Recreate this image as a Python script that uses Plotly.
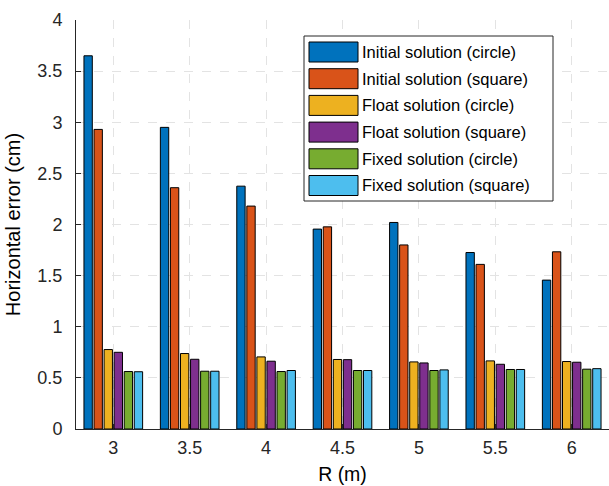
import plotly.graph_objects as go

R = [3, 3.5, 4, 4.5, 5, 5.5, 6]
tick_labels = ["3", "3.5", "4", "4.5", "5", "5.5", "6"]
names = ["Initial solution (circle)", "Initial solution (square)",
         "Float solution (circle)", "Float solution (square)",
         "Fixed solution (circle)", "Fixed solution (square)"]
init_circle = [3.65, 2.95, 2.375, 1.955, 2.02, 1.726, 1.456]
init_square = [2.93, 2.36, 2.18, 1.977, 1.80, 1.61, 1.733]
float_circle = [0.777, 0.738, 0.705, 0.68, 0.656, 0.666, 0.66]
float_square = [0.75, 0.682, 0.663, 0.678, 0.646, 0.633, 0.653]
fixed_circle = [0.562, 0.565, 0.562, 0.572, 0.572, 0.582, 0.585]
fixed_square = [0.56, 0.565, 0.572, 0.572, 0.578, 0.582, 0.59]
series = [init_circle, init_square, float_circle, float_square, fixed_circle, fixed_square]
colors = ["#0072BD", "#D95319", "#EDB120", "#7E2F8E", "#77AC30", "#4DBEEE"]

W, H = 609, 486
ML, MR, MT, MB = 76, 0, 20, 57
PW, PH = W - ML - MR, H - MT - MB
FONT = "Liberation Sans, Arial"

fig = go.Figure()
for name, vals, c in zip(names, series, colors):
    fig.add_trace(go.Bar(x=R, y=vals, name=name, marker=dict(color=c, line=dict(color="#000000", width=1)),
                         showlegend=False))

def px2x(px):
    return (px - ML) / PW

def py2y(py):
    return (H - MB - py) / PH

shapes = []
annotations = []
# legend box
lx0, lx1, ly0, ly1 = 304, 553, 36, 201
shapes.append(dict(type="rect", xref="paper", yref="paper", x0=px2x(lx0), x1=px2x(lx1),
                   y0=py2y(ly1), y1=py2y(ly0), fillcolor="white", line=dict(color="#262626", width=1)))
for i, (name, c) in enumerate(zip(names, colors)):
    top = 42 + i * 26.7
    shapes.append(dict(type="rect", xref="paper", yref="paper", x0=px2x(309), x1=px2x(358),
                       y0=py2y(top + 20), y1=py2y(top), fillcolor=c, line=dict(color="#000000", width=1)))
    annotations.append(dict(xref="paper", yref="paper", x=px2x(360), y=py2y(top + 10), text=name,
                            showarrow=False, xanchor="left", yanchor="middle",
                            font=dict(family=FONT, size=16.5, color="#000000")))

fig.update_layout(
    width=W, height=H,
    margin=dict(l=ML, r=MR, t=MT, b=MB),
    paper_bgcolor="white", plot_bgcolor="white",
    barmode="group", bargap=0.21, bargroupgap=0.17,
    font=dict(family=FONT, size=18, color="#262626"),
    shapes=shapes, annotations=annotations,
    xaxis=dict(range=[2.756, 6.244], tickvals=R, ticktext=tick_labels, showline=True, linecolor="#262626",
               linewidth=1, ticks="inside", ticklen=5, tickcolor="#262626", showgrid=True,
               gridcolor="#e3e3e3", griddash="dash", gridwidth=1, zeroline=False,
               ticklabelstandoff=2,
               title=dict(text="R (m)", font=dict(size=19.5, color="#000000"), standoff=10),
               tickfont=dict(size=18, color="#262626")),
    yaxis=dict(range=[0, 4], dtick=0.5, tick0=0, showline=True, linecolor="#262626", linewidth=1,
               ticks="inside", ticklen=5, tickcolor="#262626", showgrid=True, gridcolor="#e3e3e3",
               griddash="dash", gridwidth=1, zeroline=False,
               ticklabelstandoff=9,
               title=dict(text="Horizontal error (cm)", font=dict(size=20, color="#000000"), standoff=11),
               tickfont=dict(size=18, color="#262626")),
)
fig.write_html("out.html")
